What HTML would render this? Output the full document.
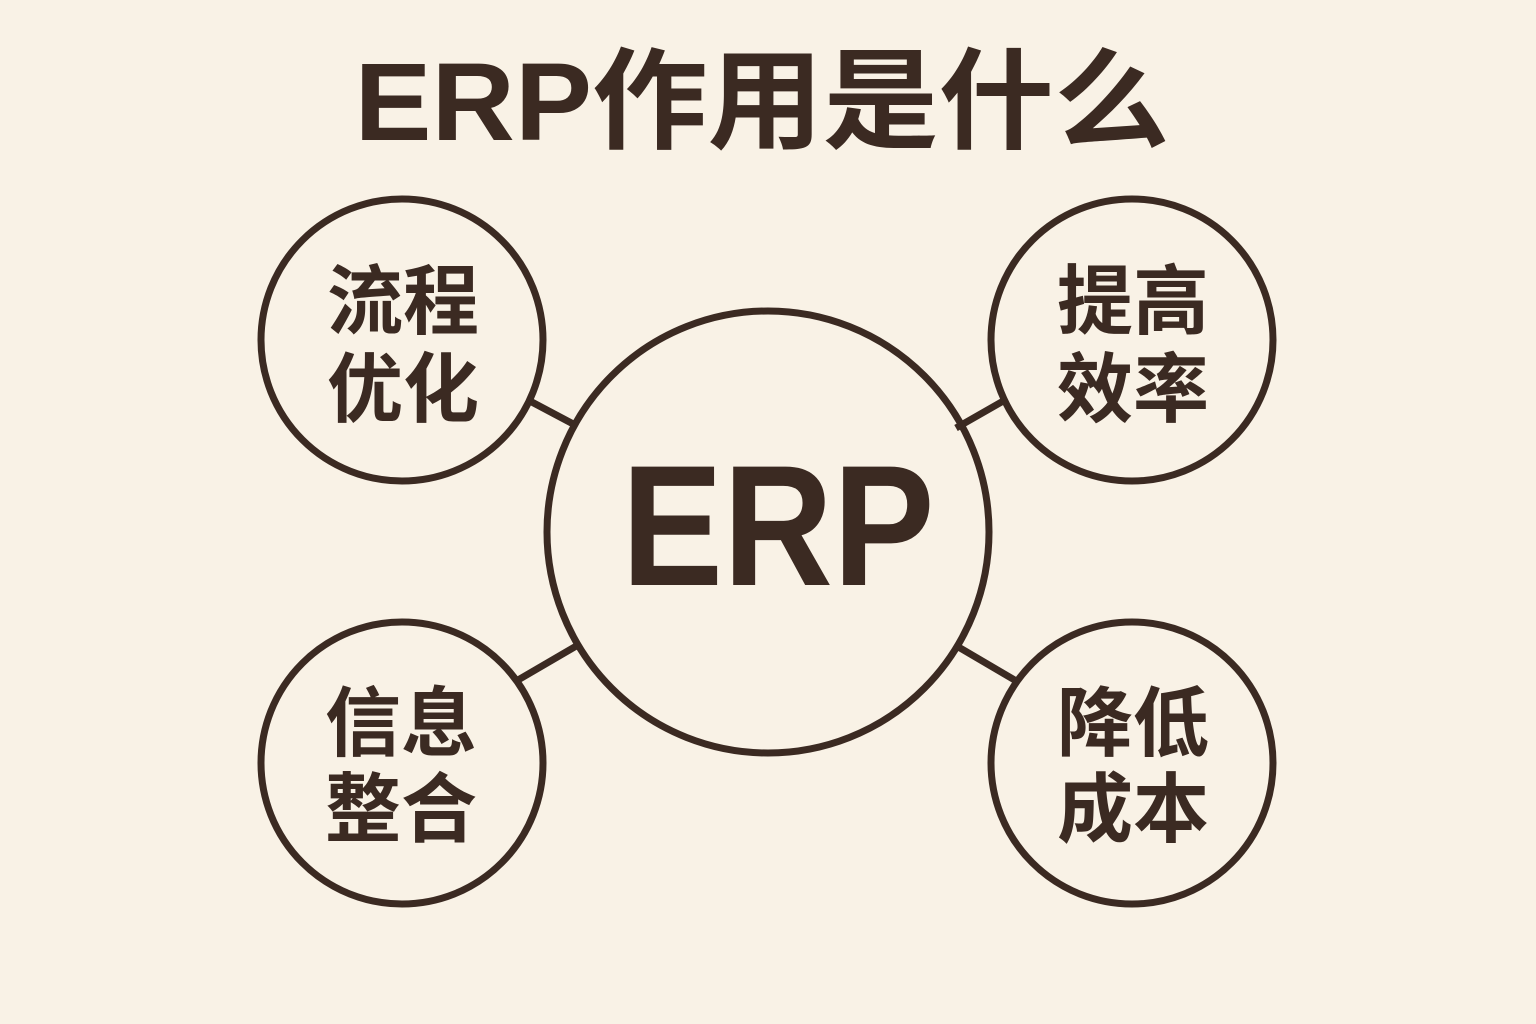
<!DOCTYPE html>
<html><head><meta charset="utf-8"><style>
html,body{margin:0;padding:0;background:#f9f2e6;}
svg{display:block}
text{font-family:"Liberation Sans","Noto Sans CJK SC",sans-serif;font-weight:bold;fill:#3b2a22}
</style></head><body>
<svg width="1536" height="1024" viewBox="0 0 1536 1024">
<rect width="1536" height="1024" fill="#f9f2e6"/>
<text x="762" y="140" text-anchor="middle" font-size="110" textLength="815" lengthAdjust="spacingAndGlyphs">ERP作用是什么</text>
<g stroke="#3b2a22" stroke-width="7" fill="none">
<circle cx="768" cy="532" r="221"/>
<circle cx="402" cy="340" r="141"/>
<circle cx="1132" cy="340" r="141"/>
<circle cx="402" cy="763" r="141"/>
<circle cx="1132" cy="763" r="141"/>
<line x1="528" y1="400" x2="577" y2="426"/>
<line x1="956" y1="428" x2="1005" y2="400"/>
<line x1="518" y1="680" x2="578" y2="645"/>
<line x1="955" y1="645" x2="1018" y2="682"/>
</g>
<text x="778" y="585" text-anchor="middle" font-size="172" textLength="313" lengthAdjust="spacingAndGlyphs">ERP</text>
<g font-size="76" text-anchor="middle">
<text x="403" y="328">流程</text><text x="403" y="416">优化</text>
<text x="1133" y="328">提高</text><text x="1133" y="416">效率</text>
<text x="401" y="750">信息</text><text x="401" y="836">整合</text>
<text x="1133" y="750">降低</text><text x="1133" y="836">成本</text>
</g>
</svg>
</body></html>
